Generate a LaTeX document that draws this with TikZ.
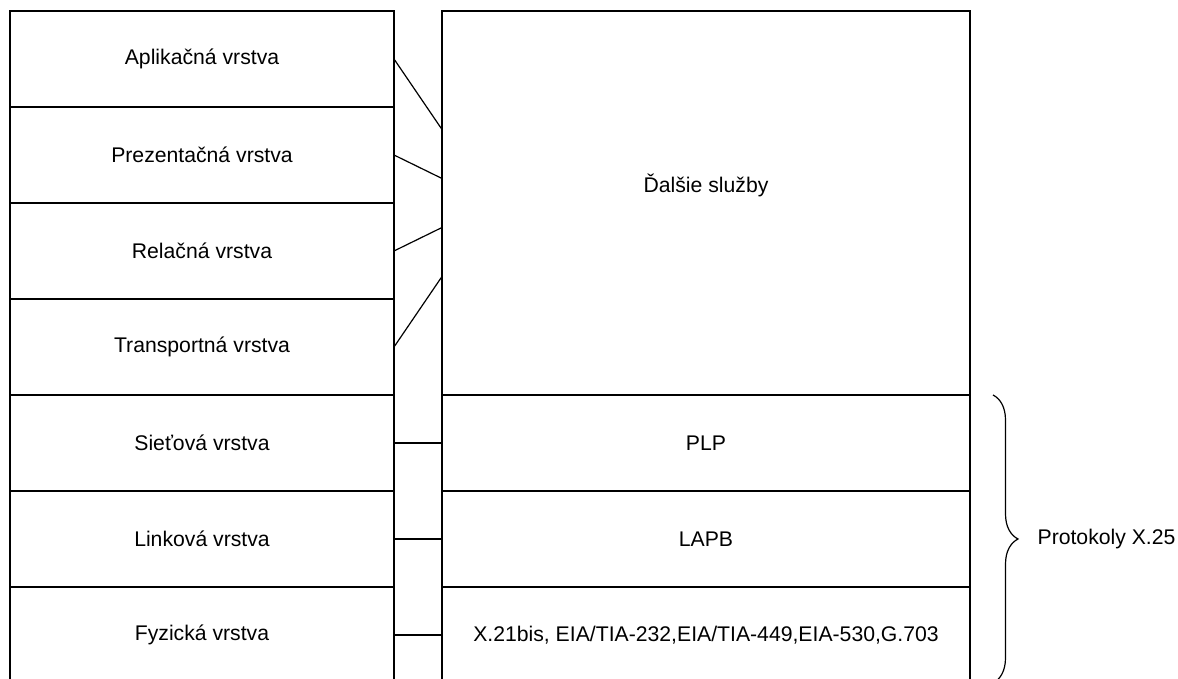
\documentclass[tikz,border=0pt]{standalone}
\usepackage{fontspec}
\setmainfont{Liberation Sans}
\usetikzlibrary{positioning,decorations.pathreplacing}

\begin{document}
\begin{tikzpicture}[
    x=0.5pt, y=0.5pt,
    layer/.style={draw, line width=0.6pt, minimum width=192pt, minimum height=48pt,
        inner sep=0pt, outer sep=0pt, font=\fontsize{10.6}{12}\selectfont},
    x25layer/.style={layer, minimum width=264pt},
    link/.style={line width=0.6pt}
]
\useasboundingbox (0,0) rectangle (1178,679);

% OSI model
\node[layer] (app) at (202,620) {Aplikačná vrstva};
\node[layer, below=0pt of app] (pres) {Prezentačná vrstva};
\node[layer, below=0pt of pres] (sess) {Relačná vrstva};
\node[layer, below=0pt of sess] (trans) {Transportná vrstva};
\node[layer, below=0pt of trans] (net) {Sieťová vrstva};
\node[layer, below=0pt of net] (link) {Linková vrstva};
\node[layer, below=0pt of link] (phys) {Fyzická vrstva};

% X.25 stack
\node[x25layer, minimum height=192pt] (more) at (706,476) {};
\node[font=\fontsize{10.6}{12}\selectfont] (morelbl) at ([yshift=9pt]more.center) {Ďalšie služby};
\node[x25layer, below=0pt of more] (plp) {PLP};
\node[x25layer, below=0pt of plp] (lapb) {LAPB};
\node[x25layer, below=0pt of lapb] (x21) {X.21bis, EIA/TIA-232,EIA/TIA-449,EIA-530,G.703};

\draw[link] (app.east) -- ([yshift=36.75pt]more.west);
\draw[link] (pres.east) -- ([yshift=12.25pt]more.west);
\draw[link] (sess.east) -- ([yshift=-12.25pt]more.west);
\draw[link] (trans.east) -- ([yshift=-36.75pt]more.west);
\draw[link] (net.east) -- (plp.west);
\draw[link] (link.east) -- (lapb.west);
\draw[link] (phys.east) -- (x21.west);

\draw[link, decorate, decoration={brace, amplitude=12.5pt}]
    ([xshift=11.5pt]plp.north east) -- ([xshift=11.5pt]x21.south east)
    node[midway, anchor=west, inner sep=0pt, xshift=22pt,
         font=\fontsize{10.6}{12}\selectfont] (x25) {Protokoly X.25};
\end{tikzpicture}
\end{document}
